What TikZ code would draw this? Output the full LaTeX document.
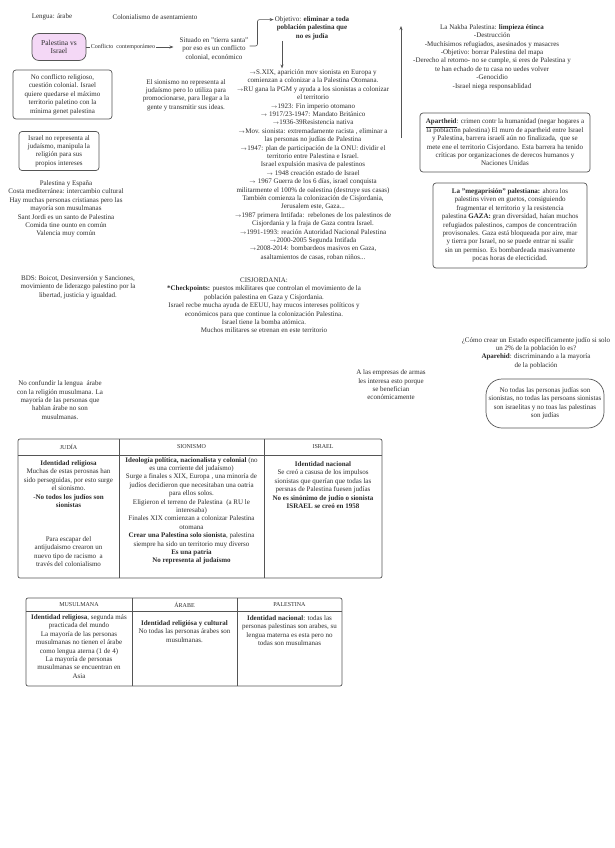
\documentclass[tikz,border=0pt]{standalone}
\usepackage{fontspec}
\setmainfont{Liberation Serif}
\usetikzlibrary{arrows.meta}
\definecolor{pvfill}{RGB}{244,216,246}
\definecolor{inkgray}{RGB}{45,45,45}
\definecolor{linegray}{RGB}{85,85,85}
\newcommand\flecha{\ensuremath{\scriptstyle\rightarrow}}

\begin{document}
\begin{tikzpicture}[x=1pt,y=-1pt,font=\fontsize{7}{8.4}\selectfont,text=inkgray,
      t/.style={align=center,inner sep=1pt},
      b/.style={t,draw=linegray,rounded corners=3pt,line width=.7pt},
      th/.style={font=\fontsize{6}{7}\selectfont,inner sep=1pt},
      td/.style={t,anchor=north},
      tab/.style={draw=linegray,line width=.7pt},
      a/.style={-{Stealth[length=4pt,width=3pt]},draw=linegray,line width=.6pt}]
      \fill[white] (0,0) rectangle (615,848);
      \useasboundingbox (0,0) rectangle (615,848);
      \node[t] (lengua) at (52,17) {Lengua: árabe};
      \node[t] (colonial) at (155,17) {Colonialismo de asentamiento};
      \node[b,fill=pvfill,rounded corners=7pt,minimum width=54pt,minimum height=27pt,
        font=\fontsize{7.5}{8.5}\selectfont] (pvi) at (59,47) {Palestina vs\\Israel};
      \node[t] (situado) at (214,49) {Situado en "tierra santa"\\por eso es un conflicto\\colonial, económico};
      \node[t] (objetivo) at (312,28) {Objetivo: \textbf{eliminar a toda}\\\textbf{población palestina que}\\\textbf{no es judía}};
      \node[t] (lista) at (313,165) {\flecha S.XIX, aparición mov sionista en Europa y\\
        comienzan a colonizar a la Palestina Otomana.\\
        \flecha RU gana la PGM y ayuda a los sionistas a colonizar\\
        el territorio\\
        \flecha 1923: Fin imperio otomano\\
        \flecha{} 1917/23-1947: Mandato Británico\\
        \flecha 1936-39Resistencia nativa\\
        \flecha Mov. sionista: extremadamente racista , eliminar a\\
        las personas no judías de Palestina\\
        \flecha 1947: plan de participación de la ONU: dividir el\\
        territorio entre Palestina e Israel.\\
        Israel expulsión masiva de palestinos\\
        \flecha{} 1948 creación estado de Israel\\
        \flecha{} 1967 Guerra de los 6 días, israel conquista\\
        militarmente el 100\% de oalestina (destruye sus casas)\\
        También comienza la colonización de Cisjordania,\\
        Jerusalem este, Gaza...\\
        \flecha 1987 primera Intifada:\ \ rebelones de los palestinos de\\
        Cisjordania y la fraja de Gaza contra Israel.\\
        \flecha 1991-1993: reación Autoridad Nacional Palestina\\
        \flecha 2000-2005 Segunda Intifada\\
        \flecha 2008-2014: bombardeos masivos en Gaza,\\
        asaltamientos de casas, roban niños...};
      \node[t] (sionismo) at (186,95) {El sionismo no representa al\\judaísmo pero lo utiliza para\\promocionarse, para llegar a la\\gente y transmitir sus ideas.};
      \node[b,minimum width=99pt,minimum height=49pt] (noconf) at (62.5,94.5) {No conflicto religioso,\\cuestión colonial. Israel\\quiere quedarse el máximo\\territorio paletino con la\\mínima genet palestina};
      \node[b,minimum width=80pt,minimum height=39pt] (israelno) at (59,151) {Israel no representa al\\judaísmo, manipula la\\religión para sus\\propios intereses};
      \node[t] (espana) at (66,209) {Palestina y España\\Costa mediterránea: intercambio cultural\\Hay muchas personas cristianas pero las\\mayoría son musulmanas\\Sant Jordi es un santo de Palestina\\Comida tine ounto en común\\Valencia muy común};
      \node[t] (bds) at (78,287) {BDS: Boicot, Desinversión y Sanciones,\\movimiento de liderazgo palestino por la\\libertad, justicia y igualdad.};
      \node[t] (cisj) at (264,305.5) {CISJORDANIA:\\
        \textbf{*Checkpoints:} puestos mkilitares que controlan el movimiento de la\\
        población palestina en Gaza y Cisjordania.\\
        Israel recbe mucha ayuda de EEUU, hay mucos intereses políticos y\\
        económicos para que continue la colonización Palestina.\\
        Israel tiene la bomba atómica.\\
        Muchos militares se etrenan en este territorio};
      \node[t] (confundir) at (60,400) {No confundir la lengua\ \ árabe\\con la religión musulmana. La\\mayoría de las personas que\\hablan árabe no son\\musulmanas.};
      \node[t] (armas) at (391,385) {A las empresas de armas\\les interesa esto porque\\se benefician\\económicamente};
      \node[t] (nakba) at (492,57) {La Nakba Palestina: \textbf{limpieza étinca}\\
        -Destrucción\\
        -Muchísimos refugiados, asesinados y masacres\\
        -Objetivo: borrar Palestina del mapa\\
        -Derecho al retorno- no se cumple, si eres de Palestina y\\
        te han echado de tu casa no uedes volver\\
        -Genocidio\\
        -Israel niega responsablidad};
      \node[b,minimum width=170pt,minimum height=59pt] (apartheid) at (505,142.5) {\underline{\textbf{Apartheid}}: crimen contr la humanidad (negar hogares a\\
        la población palestina) El muro de apartheid entre Israel\\
        y Palestina, barrera israelí aún no finalizada,\ \ que se\\
        mete ene el territorio Cisjordano. Esta barrera ha tenido\\
        críticas por organizaciones de derecos humanos y\\
        Naciones Unidas};
      \node[b,minimum width=154pt,minimum height=85pt] (megapr) at (510,225.5) {\textbf{La "megaprisión" palestiana:} ahora los\\
        palestins viven en guetos, consiguiendo\\
        fragmentar el territorio y la resistencia\\
        palestina \textbf{GAZA:} gran diversidad, haían muchos\\
        refugiados palestinos, campos de concentración\\
        provisonales. Gaza está bloqueada por aire, mar\\
        y tierra por Israel, no se puede entrar ni ssalir\\
        sin un permiso. Es bombardeada masivamente\\
        pocas horas de electicidad.};
      \node[t] (comocrear) at (536,353) {¿Cómo crear un Estado específicamente judío si solo\\un 2\% de la población lo es?\\\textbf{Aparehid}: discriminando a la mayoría\\de la población};
      \node[b,rounded corners=16pt,minimum width=118pt,minimum height=49pt] (notodas) at (545,403.5) {No todas las personas judías son\\sionistas, no todas las persoans sionistas\\son israelitas y no toas las palestinas\\son judías};
      \coordinate (colx) at (282,0);
      \coordinate (nb0) at (401,138);
      \coordinate (nb1) at (401,26);
      \draw[a] (pvi.east) -- node[pos=.42,fill=white,inner sep=.5pt,font=\fontsize{6}{6.5}\selectfont]
          {Conflicto\ \ contemporámeo} ([xshift=-5pt]pvi.east -| situado.west);
      \draw[a,rounded corners=2pt] ([yshift=3pt]situado.east) -- ++(8,0) |- ([yshift=8.4pt]objetivo.west);
      \draw[a] (objetivo.south -| colx) -- (lista.north -| colx);
      \draw[a] (nb0) -- (nb1);
      \draw[tab,rounded corners=2pt] (18,439) rectangle (382,578);
      \draw[tab] (18,455) -- (382,455);
      \draw[tab] (119,439) -- (119,578);
      \draw[tab] (264,439) -- (264,578);
      \node[th] (hjudia) at (68.5,447) {JUDÍA};
      \node[th] (hsion) at (191.5,447) {SIONISMO};
      \node[th] (hisrael) at (323,447) {ISRAEL};
      \node[td] (judia1) at (68.5,459.5) {\textbf{Identidad religiosa}\\Muchas de estas perosnas han\\sido perseguidas, por esto surge\\el sionismo.\\\textbf{-No todos los judíos son}\\\textbf{sionistas}};
      \node[td] (judia2) at (68.5,535.5) {Para escapar del\\antijudaismo crearon un\\nuevo tipo de racismo\ \ a\\través del colonialismo};
      \node[td] (sion) at (191.5,456) {\textbf{Ideología política, nacionalista y colonial} (no\\
        es una corriente del judaísmo)\\
        Surge a finales s XIX, Europa , una minoría de\\
        judíos decidieron que necesitaban una oatria\\
        para ellos solos.\\
        Eligieron el terreno de Palestina\ \ (a RU le\\
        interesaba)\\
        Finales XIX comienzan a colonizar Palestina\\
        otomana\\
        \textbf{Crear una Palestina solo sionista}, palestina\\
        siempre ha sido un territorio muy diverso\\
        \textbf{Es una patria}\\
        \textbf{No representa al judaísmo}};
      \node[td] (israel) at (323,460.5) {\textbf{Identidad nacional}\\Se creó a casusa de los impulsos\\sionistas que querían que todas las\\persnas de Palestina fuesen judías\\\textbf{No es sinónimo de judío o sionista}\\\textbf{ISRAEL se creó en 1958}};
      \draw[tab,rounded corners=2pt] (26,598) rectangle (342,686);
      \draw[tab] (26,611) -- (342,611);
      \draw[tab] (132,598) -- (132,686);
      \draw[tab] (237,598) -- (237,686);
      \node[th] (hmusul) at (79,605) {MUSULMANA};
      \node[th] (harabe) at (184.5,605) {ÁRABE};
      \node[th] (hpal) at (289.5,605) {PALESTINA};
      \node[td] (musul) at (79,613.5) {\textbf{Identidad religiosa}, segunda más\\practicada del mundo\\La mayoría de las personas\\musulmanas no tienen el árabe\\como lengua aterna (1 de 4)\\La mayoría de personas\\musulmanas se encuentran en\\Asia};
      \node[td] (arabe) at (184.5,619.5) {\textbf{Identidad religiósa y cultural}\\No todas las personas árabes son\\musulmanas.};
      \node[td] (palest) at (289.5,614.5) {\textbf{Identidad nacional}: todas las\\personas palestinas son arabes, su\\lengua materna es esta pero no\\todas son musulmanas};
    \end{tikzpicture}
\end{document}
